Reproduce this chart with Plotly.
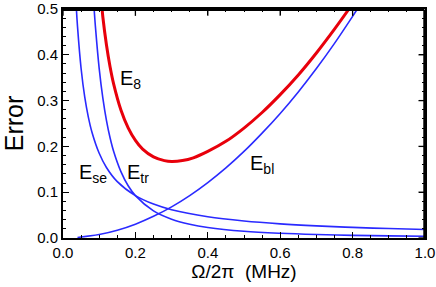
import plotly.graph_objects as go

x_se = [0.037, 0.04, 0.05, 0.06, 0.07, 0.08, 0.1, 0.12, 0.15, 0.2, 0.25, 0.3, 0.4, 0.5, 0.6, 0.7, 0.8, 0.9, 1.0]
y_se = [0.5, 0.4625, 0.37, 0.308, 0.264, 0.231, 0.185, 0.154, 0.123, 0.0925, 0.074, 0.0617, 0.0463, 0.037, 0.0308, 0.0264, 0.0231, 0.0206, 0.0185]

x_tr = [0.086, 0.09, 0.1, 0.11, 0.12, 0.13, 0.14, 0.16, 0.18, 0.2, 0.25, 0.3, 0.35, 0.4, 0.5, 0.6, 0.7, 0.8, 0.9, 1.0]
y_tr = [0.5, 0.457, 0.37, 0.306, 0.257, 0.219, 0.189, 0.145, 0.114, 0.0925, 0.0592, 0.0411, 0.0302, 0.0231, 0.0148, 0.0103, 0.0076, 0.0058, 0.0046, 0.0037]

x_bl = [0.04, 0.1, 0.15, 0.2, 0.25, 0.3, 0.35, 0.4, 0.45, 0.5, 0.55, 0.6, 0.65, 0.7, 0.75, 0.8, 0.813]
y_bl = [0.0012, 0.0076, 0.017, 0.0302, 0.0473, 0.068, 0.0926, 0.121, 0.153, 0.189, 0.229, 0.272, 0.319, 0.370, 0.425, 0.484, 0.5]

x_8 = [0.108, 0.11, 0.12, 0.13, 0.14, 0.16, 0.18, 0.2, 0.22, 0.25, 0.28, 0.3, 0.33, 0.36, 0.4, 0.45, 0.5, 0.55, 0.6, 0.65, 0.7, 0.75, 0.79]
y_8 = [0.5, 0.483, 0.422, 0.374, 0.336, 0.2795, 0.2405, 0.213, 0.194, 0.177, 0.169, 0.167, 0.169, 0.175, 0.189, 0.211, 0.240, 0.274, 0.313, 0.356, 0.404, 0.456, 0.5]

x_ticks = [0.0, 0.2, 0.4, 0.6, 0.8, 1.0]
y_ticks = [0.0, 0.1, 0.2, 0.3, 0.4, 0.5]

BLUE = "#2a2aff"
RED = "#e8000b"
FONT = "Liberation Sans, Arial, sans-serif"

fig = go.Figure()
for xs, ys in [(x_se, y_se), (x_tr, y_tr), (x_bl, y_bl)]:
    fig.add_trace(go.Scatter(x=xs, y=ys, mode="lines", line=dict(color=BLUE, width=1.6, shape="spline"),
                             showlegend=False, hoverinfo="skip"))
fig.add_trace(go.Scatter(x=x_8, y=y_8, mode="lines", line=dict(color=RED, width=3, shape="spline"),
                         showlegend=False, hoverinfo="skip"))

labels = [("E<sub>8</sub>", 0.187, 0.345), ("E<sub>se</sub>", 0.083, 0.14), ("E<sub>tr</sub>", 0.207, 0.14),
          ("E<sub>bl</sub>", 0.55, 0.16)]
for txt, lx, ly in labels:
    fig.add_annotation(x=lx, y=ly, text=txt, showarrow=False, font=dict(family=FONT, size=20, color="black"),
                       xanchor="center", yanchor="middle")

axis_common = dict(showline=True, linecolor="black", linewidth=2, mirror="allticks", ticks="inside",
                   tickcolor="black", tickwidth=1.3, ticklen=6, showgrid=False, zeroline=False, automargin=False,
                   ticklabeloverflow="allow",
                   tickfont=dict(family=FONT, size=15, color="black"))
fig.update_xaxes(range=[0, 1.0], tickvals=x_ticks, ticktext=[f"{v:.1f}" for v in x_ticks],
                 minor=dict(tickvals=[i / 20 for i in range(21)], ticks="inside", ticklen=3, tickcolor="black",
                            tickwidth=1, showgrid=False),
                 title=dict(text="Ω/2π\u00a0\u00a0(MHz)", font=dict(family=FONT, size=19, color="black"), standoff=4),
                 **axis_common)
fig.update_yaxes(range=[0, 0.5], tickvals=y_ticks, ticktext=[f"{v:.1f}" for v in y_ticks],
                 minor=dict(tickvals=[i / 50 for i in range(26)], ticks="inside", ticklen=3, tickcolor="black",
                            tickwidth=1, showgrid=False),
                 title=dict(text="Error", font=dict(family=FONT, size=25, color="black"), standoff=6),
                 **axis_common)
# frame on top and right, drawn slightly inside the plot edge
fig.add_shape(type="line", xref="paper", yref="paper", x0=0, x1=0.998, y0=0.996, y1=0.996,
              line=dict(color="black", width=2), layer="above")
fig.add_shape(type="line", xref="paper", yref="paper", x0=0.998, x1=0.998, y0=0, y1=0.996,
              line=dict(color="black", width=2), layer="above")
# mirrored ticks on top and right
for v in x_ticks:
    fig.add_shape(type="line", xref="x", yref="paper", x0=v, x1=v, y0=0.996, y1=0.97,
                  line=dict(color="black", width=1.3), layer="above")
for v in y_ticks:
    fig.add_shape(type="line", xref="paper", yref="y", x0=0.998, x1=0.982, y0=v, y1=v,
                  line=dict(color="black", width=1.3), layer="above")
fig.update_layout(width=436, height=287, margin=dict(l=63, r=11, t=9, b=49),
                  plot_bgcolor="white", paper_bgcolor="white")
fig.write_html("out.html", config={"displayModeBar": False},
               post_script="document.body.style.margin='0';document.body.style.overflow='hidden';")
